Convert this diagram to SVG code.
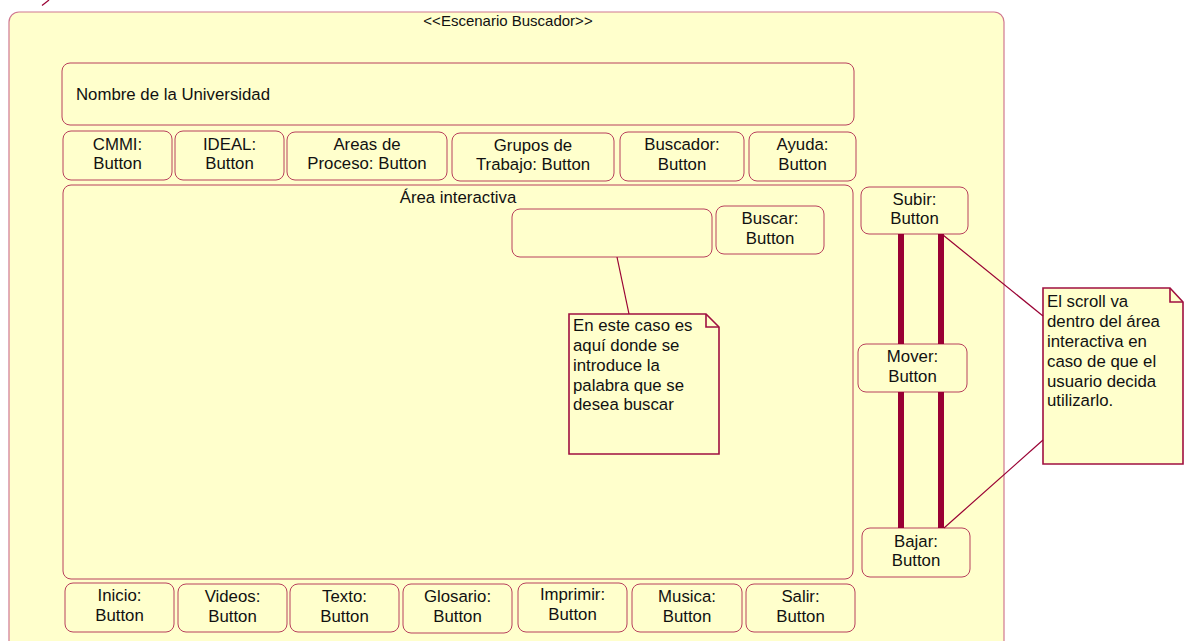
<svg xmlns="http://www.w3.org/2000/svg" width="1186" height="641" viewBox="0 0 1186 641">
  <style>
    .frame { fill: #ffffcc; stroke: #d07890; stroke-width: 1.2; }
    .box { fill: #ffffcc; stroke: #b8405c; stroke-width: 1; }
    .note { fill: #ffffcc; stroke: #a01040; stroke-width: 1.6; }
    .fold { fill: none; stroke: #a01040; stroke-width: 1.6; }
    text { font-family: "Liberation Sans", Arial, sans-serif; font-size: 16.8px; fill: #111; }
    .c { text-anchor: middle; }
    .title { font-size: 15px; }
    .bar { stroke: #990033; stroke-width: 6; }
    .link { stroke: #990033; stroke-width: 1.2; fill: none; }
  </style>

  <!-- stray edge fragment at the top left -->
  <line x1="42" y1="5.5" x2="49" y2="0" class="link" stroke="#c06080"/>

  <!-- scenario frame -->
  <g id="escenario">
    <rect class="frame" x="9" y="12" width="995" height="640" rx="10"/>
    <text class="c title" x="508" y="26">&lt;&lt;Escenario Buscador&gt;&gt;</text>
  </g>

  <g id="nombre">
    <rect class="box" x="62" y="63" width="792" height="62" rx="8"/>
    <text x="76" y="100">Nombre de la Universidad</text>
  </g>

  <!-- top menu -->
  <g id="cmmi">
    <rect class="box" x="63" y="131" width="109" height="49" rx="8"/>
    <text class="c" x="117.5" y="150">CMMI:</text>
    <text class="c" x="117.5" y="169">Button</text>
  </g>
  <g id="ideal">
    <rect class="box" x="175" y="131" width="109" height="49" rx="8"/>
    <text class="c" x="229.5" y="150">IDEAL:</text>
    <text class="c" x="229.5" y="169">Button</text>
  </g>
  <g id="areas">
    <rect class="box" x="287" y="132" width="160" height="48" rx="8"/>
    <text class="c" x="367" y="150">Areas de</text>
    <text class="c" x="367" y="169">Proceso: Button</text>
  </g>
  <g id="grupos">
    <rect class="box" x="452" y="133" width="162" height="48" rx="8"/>
    <text class="c" x="533" y="151">Grupos de</text>
    <text class="c" x="533" y="170">Trabajo: Button</text>
  </g>
  <g id="buscador">
    <rect class="box" x="620" y="132" width="124" height="49" rx="8"/>
    <text class="c" x="682" y="150">Buscador:</text>
    <text class="c" x="682" y="170">Button</text>
  </g>
  <g id="ayuda">
    <rect class="box" x="749" y="132" width="107" height="49" rx="8"/>
    <text class="c" x="802.5" y="150">Ayuda:</text>
    <text class="c" x="802.5" y="170">Button</text>
  </g>

  <!-- interactive area -->
  <g id="area-interactiva">
    <rect class="box" x="63" y="185" width="790" height="394" rx="8"/>
    <text class="c" x="458" y="203">Área interactiva</text>
  </g>
  <g id="campo-busqueda">
    <rect class="box" x="512" y="209" width="200" height="48" rx="8"/>
  </g>
  <g id="buscar">
    <rect class="box" x="716" y="206" width="108" height="48" rx="8"/>
    <text class="c" x="770" y="224">Buscar:</text>
    <text class="c" x="770" y="244">Button</text>
  </g>

  <!-- scroll controls -->
  <g id="subir">
    <rect class="box" x="861" y="187" width="107" height="47" rx="8"/>
    <text class="c" x="914.5" y="205">Subir:</text>
    <text class="c" x="914.5" y="224">Button</text>
  </g>
  <g id="mover">
    <rect class="box" x="858" y="344" width="109" height="48" rx="8"/>
    <text class="c" x="912.5" y="362">Mover:</text>
    <text class="c" x="912.5" y="382">Button</text>
  </g>
  <g id="bajar">
    <rect class="box" x="862" y="528" width="108" height="49" rx="8"/>
    <text class="c" x="916" y="547">Bajar:</text>
    <text class="c" x="916" y="566">Button</text>
  </g>

  <!-- bottom menu -->
  <g id="inicio">
    <rect class="box" x="65" y="583" width="109" height="49" rx="8"/>
    <text class="c" x="119.5" y="601">Inicio:</text>
    <text class="c" x="119.5" y="621">Button</text>
  </g>
  <g id="videos">
    <rect class="box" x="178" y="584" width="109" height="48" rx="8"/>
    <text class="c" x="232.5" y="602">Videos:</text>
    <text class="c" x="232.5" y="622">Button</text>
  </g>
  <g id="texto">
    <rect class="box" x="290" y="584" width="109" height="48" rx="8"/>
    <text class="c" x="344.5" y="602">Texto:</text>
    <text class="c" x="344.5" y="622">Button</text>
  </g>
  <g id="glosario">
    <rect class="box" x="403" y="584" width="109" height="49" rx="8"/>
    <text class="c" x="457.5" y="602">Glosario:</text>
    <text class="c" x="457.5" y="622">Button</text>
  </g>
  <g id="imprimir">
    <rect class="box" x="518" y="583" width="109" height="49" rx="8"/>
    <text class="c" x="572.5" y="600">Imprimir:</text>
    <text class="c" x="572.5" y="620">Button</text>
  </g>
  <g id="musica">
    <rect class="box" x="632" y="584" width="110" height="48" rx="8"/>
    <text class="c" x="687" y="602">Musica:</text>
    <text class="c" x="687" y="622">Button</text>
  </g>
  <g id="salir">
    <rect class="box" x="746" y="584" width="109" height="48" rx="8"/>
    <text class="c" x="800.5" y="602">Salir:</text>
    <text class="c" x="800.5" y="622">Button</text>
  </g>

  <!-- notes -->
  <g id="nota-busqueda">
    <path class="note" d="M569,314 H706 L719,327 V454 H569 Z"/>
    <path class="fold" d="M706,314 V327 H719"/>
    <text x="573" y="331">En este caso es</text>
    <text x="573" y="351">aquí donde se</text>
    <text x="573" y="371">introduce la</text>
    <text x="573" y="391">palabra que se</text>
    <text x="573" y="410">desea buscar</text>
  </g>
  <g id="nota-scroll">
    <path class="note" d="M1043,288 H1170 L1183,302 V464 H1043 Z"/>
    <path class="fold" d="M1170,288 V302 H1183"/>
    <text x="1047" y="307">El scroll va</text>
    <text x="1047" y="327">dentro del área</text>
    <text x="1047" y="347">interactiva en</text>
    <text x="1047" y="367">caso de que el</text>
    <text x="1047" y="387">usuario decida</text>
    <text x="1047" y="406">utilizarlo.</text>
  </g>

  <!-- connectors -->
  <g id="conectores">
    <line class="bar" x1="901" y1="234" x2="901" y2="344"/>
    <line class="bar" x1="941" y1="234" x2="941" y2="344"/>
    <line class="bar" x1="901" y1="392" x2="901" y2="528"/>
    <line class="bar" x1="941" y1="392" x2="941" y2="528"/>
    <line class="link" x1="617" y1="257" x2="629" y2="314"/>
    <line class="link" x1="943" y1="235" x2="1043" y2="316"/>
    <line class="link" x1="944" y1="528" x2="1043" y2="440"/>
  </g>
</svg>
